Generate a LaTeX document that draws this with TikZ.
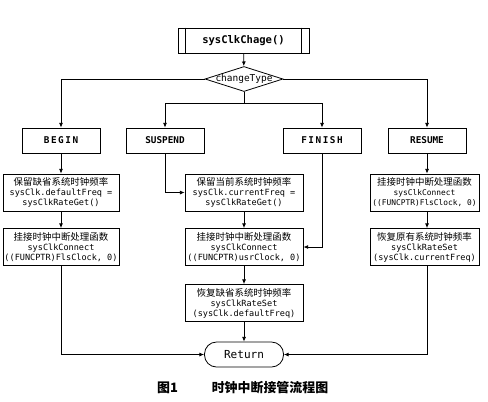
\documentclass[tikz,border=0pt]{standalone}
\usepackage{fontspec}
\setmainfont{DejaVu Sans}
\setmonofont{DejaVu Sans Mono}
\newfontfamily\cjk{Noto Sans CJK SC}
\usetikzlibrary{arrows.meta,positioning,shapes.geometric,calc}
\newcommand{\zh}[1]{{\cjk\fontsize{7.1}{7.5}\selectfont#1}}

\begin{document}
\begin{tikzpicture}[x=0.75pt,y=-0.75pt,line width=0.6pt,
    every node/.style={font=\ttfamily\fontsize{6.4}{7.5}\selectfont,align=center},
    casebox/.style={draw,minimum width=58.5pt,minimum height=18.75pt,inner sep=0pt,
      font=\ttfamily\bfseries\fontsize{7}{8}\selectfont},
    stepbox/.style={draw,minimum height=27.75pt,inner sep=0pt},
    arr/.style={-{Latex[length=3.5pt,width=3pt]}}]
  \useasboundingbox (0,0) rectangle (488,401);
  % entry and switch
  \node[draw,minimum width=98.25pt,minimum height=18.75pt,inner sep=0pt,
        font=\ttfamily\bfseries\fontsize{7.9}{9}\selectfont] (top) at (243.5,40.5) {sysClkChage()};
  \draw ($(top.north west)+(8,0)$) -- ($(top.south west)+(8,0)$);
  \draw ($(top.north east)+(-8,0)$) -- ($(top.south east)+(-8,0)$);
  \node[draw,diamond,minimum width=58.5pt,minimum height=18.75pt,inner sep=0pt,
        label={[font=\ttfamily\fontsize{7.1}{8}\selectfont]center:changeType}] (ct) at (244,79) {};
  \coordinate (split) at (244,103);
  % cases
  \node[casebox] (begin) at (61,140.5) {B\,E\,G\,I\,N};
  \node[casebox] (suspend) at (165,140.5) {SUSPEND};
  \node[casebox] (finish) at (322,140.5) {F\,I\,N\,I\,S\,H};
  \node[casebox] (resume) at (427,140.5) {RESUME};
  % BEGIN column
  \node[stepbox,minimum width=87pt] (b1) at (61,192.5) {
    \zh{保留缺省系统时钟频率}\\ sysClk.defaultFreq =\\ sysClkRateGet()
  };
  \node[stepbox,minimum width=87pt] (b2) at (61,247) {
    \zh{挂接时钟中断处理函数}\\ sysClkConnect\\ ((FUNCPTR)FlsClock, 0)
  };
  % SUSPEND / FINISH column
  \node[stepbox,minimum width=88.5pt] (s1) at (244,192.5) {
    \zh{保留当前系统时钟频率}\\ sysClk.currentFreq =\\ sysClkRateGet()
  };
  \node[stepbox,minimum width=88.5pt] (s2) at (244,247) {
    \zh{挂接时钟中断处理函数}\\ sysClkConnect\\ ((FUNCPTR)usrClock, 0)
  };
  \node[stepbox,minimum width=88.5pt] (s3) at (244,303) {
    \zh{恢复缺省系统时钟频率}\\ sysClkRateSet\\ (sysClk.defaultFreq)
  };
  % RESUME column
  \node[stepbox,minimum width=81.75pt,font=\ttfamily\fontsize{5.9}{7.5}\selectfont] (r1) at (424.5,192.5) {
    \zh{挂接时钟中断处理函数}\\ sysClkConnect\\ ((FUNCPTR)FlsClock, 0)
  };
  \node[stepbox,minimum width=81.75pt] (r2) at (424.5,247) {
    \zh{恢复原有系统时钟频率}\\ sysClkRateSet\\ (sysClk.currentFreq)
  };
  \node[draw,rounded corners=9pt,minimum width=59.25pt,minimum height=18.75pt,inner sep=0pt,
        font=\ttfamily\fontsize{8.3}{9}\selectfont] (ret) at (244,354.5) {Return};
  % caption
  \node[font=\cjk\bfseries\fontsize{9.7}{10}\selectfont] (fig) at (167.5,388) {图1};
  \node[font=\cjk\bfseries\fontsize{9.7}{10}\selectfont] (title) at (270,388) {时钟中断接管流程图};
  % connectors
  \draw[arr] (top) -- (ct);
  \draw[arr] (ct.west) -| (begin);
  \draw[arr] (ct.east) -| (resume);
  \draw (ct.south) -- (split);
  \draw[arr] (split) -| (suspend);
  \draw[arr] (split) -| (finish);
  \draw[arr] (begin) -- (b1);
  \draw[arr] (b1) -- (b2);
  \draw[arr] (suspend.south) |- (s1.west);
  \draw[arr] (s1) -- (s2);
  \draw[arr] (s2) -- (s3);
  \draw[arr] (s3) -- (ret);
  \draw[arr] (finish.south) |- (s2.east);
  \draw[arr] (resume.south) -- (resume.south |- r1.north);
  \draw[arr] (r1.south -| resume) -- (resume |- r2.north);
  \draw[arr] (b2.south) |- (ret.west);
  \draw[arr] (r2.south -| resume) |- (ret.east);
\end{tikzpicture}
\end{document}
